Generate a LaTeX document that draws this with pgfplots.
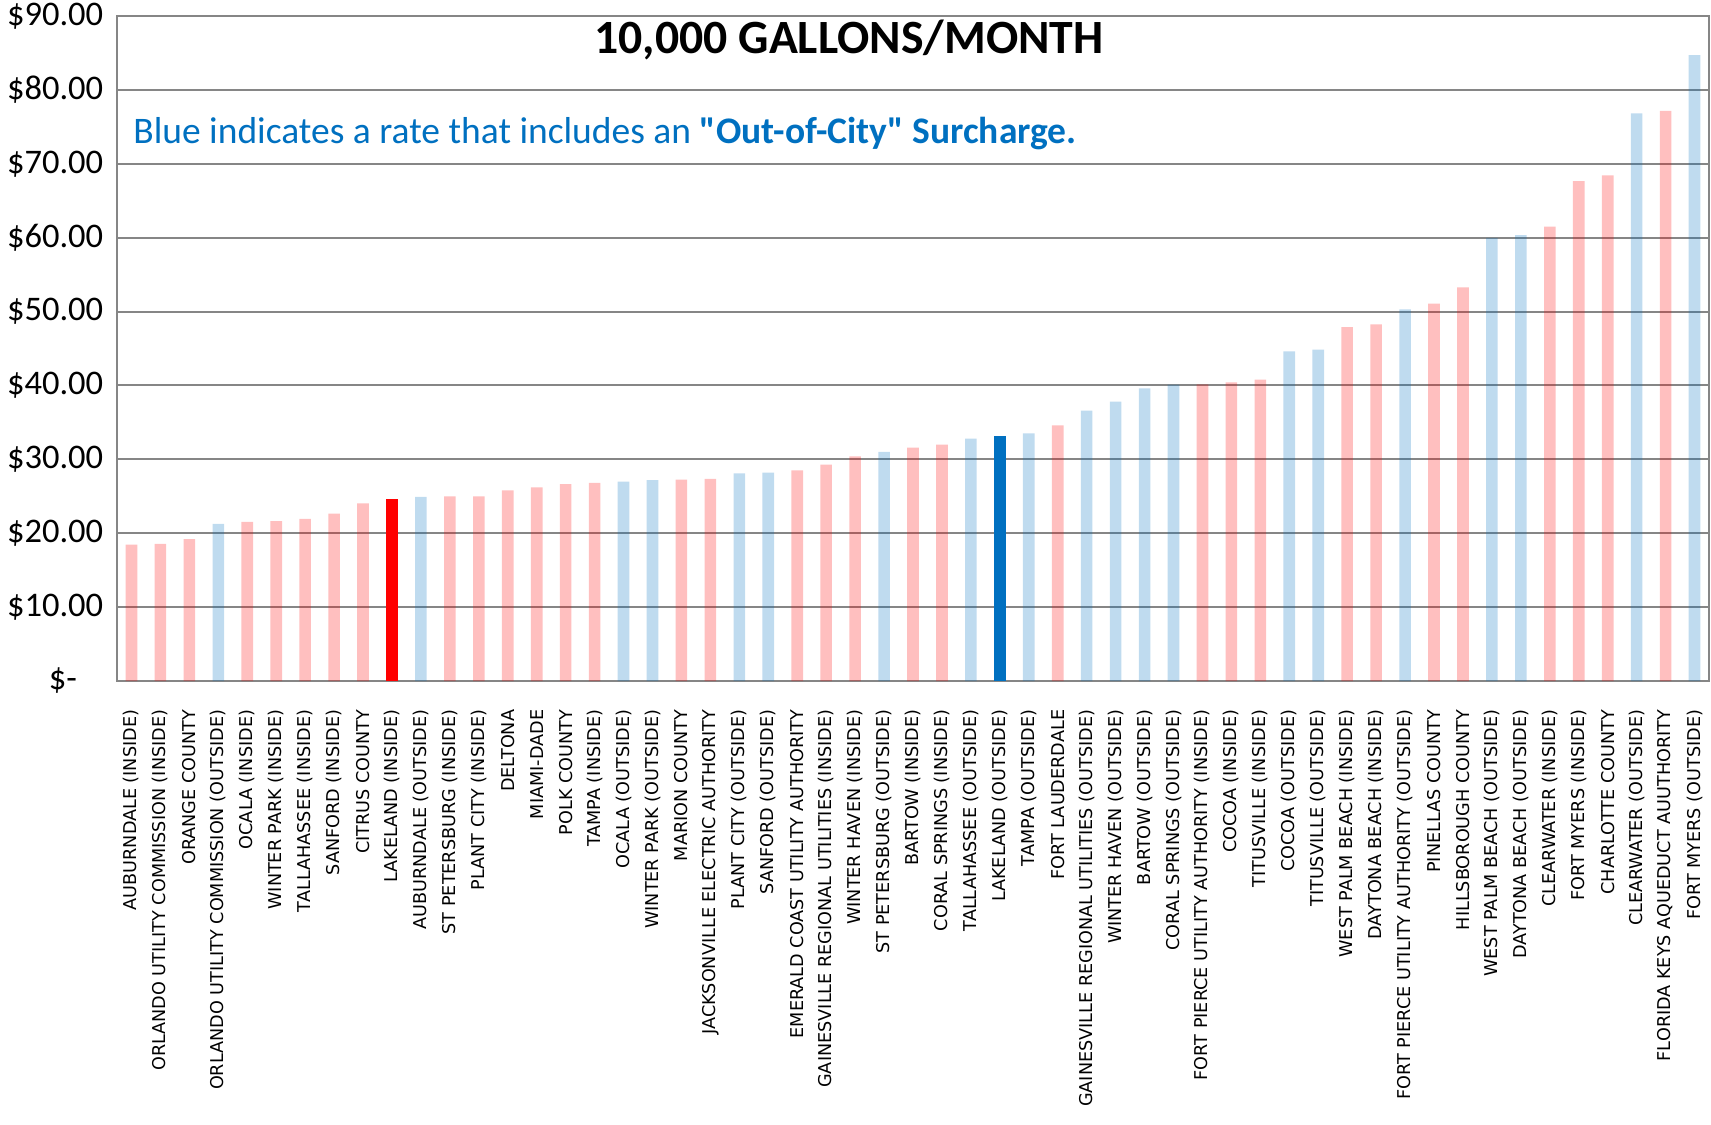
\documentclass[border=0pt]{standalone}
\usepackage{fontspec}
\setmainfont{Carlito}[Ligatures=TeXOff]
\newfontfamily\lblfont{DejaVu Sans}
\usepackage{pgfplots}
\pgfplotsset{compat=1.18}
\definecolor{redbar}{HTML}{FF0000}
\definecolor{bluebar}{HTML}{0070C0}
\definecolor{gridgray}{HTML}{868686}

\begin{document}
\begin{tikzpicture}
\useasboundingbox (-46.8pt,-177.2pt) rectangle (637.6pt,272.4pt);
\begin{axis}[
  at={(0,0)}, anchor=south west,
  scale only axis, width=636.8pt, height=266pt,
  xmin=0.5, xmax=55.5, ymin=0, ymax=90,
  ytick={0,10,...,90},
  yticklabels={\$-\hphantom{0.},\$10.00,\$20.00,\$30.00,\$40.00,\$50.00,\$60.00,\$70.00,\$80.00,\$90.00},
  xtick={1,...,55},
  xticklabels={AUBURNDALE (INSIDE),ORLANDO UTILITY COMMISSION (INSIDE),ORANGE COUNTY,
    ORLANDO UTILITY COMMISSION (OUTSIDE),OCALA (INSIDE),WINTER PARK (INSIDE),
    TALLAHASSEE (INSIDE),SANFORD (INSIDE),CITRUS COUNTY,LAKELAND (INSIDE),
    AUBURNDALE (OUTSIDE),ST PETERSBURG (INSIDE),PLANT CITY (INSIDE),DELTONA,
    MIAMI-DADE,POLK COUNTY,TAMPA (INSIDE),OCALA (OUTSIDE),WINTER PARK (OUTSIDE),
    MARION COUNTY,JACKSONVILLE ELECTRIC AUTHORITY,PLANT CITY (OUTSIDE),
    SANFORD (OUTSIDE),EMERALD COAST UTILITY AUTHORITY,
    GAINESVILLE REGIONAL UTILITIES (INSIDE),WINTER HAVEN (INSIDE),
    ST PETERSBURG (OUTSIDE),BARTOW (INSIDE),CORAL SPRINGS (INSIDE),
    TALLAHASSEE (OUTSIDE),LAKELAND (OUTSIDE),TAMPA (OUTSIDE),FORT LAUDERDALE,
    GAINESVILLE REGIONAL UTILITIES (OUTSIDE),WINTER HAVEN (OUTSIDE),
    BARTOW (OUTSIDE),CORAL SPRINGS (OUTSIDE),FORT PIERCE UTILITY AUTHORITY (INSIDE),
    COCOA (INSIDE),TITUSVILLE (INSIDE),COCOA (OUTSIDE),TITUSVILLE (OUTSIDE),
    WEST PALM BEACH (INSIDE),DAYTONA BEACH (INSIDE),
    FORT PIERCE UTILITY AUTHORITY (OUTSIDE),PINELLAS COUNTY,HILLSBOROUGH COUNTY,
    WEST PALM BEACH (OUTSIDE),DAYTONA BEACH (OUTSIDE),CLEARWATER (INSIDE),
    FORT MYERS (INSIDE),CHARLOTTE COUNTY,CLEARWATER (OUTSIDE),
    FLORIDA KEYS AQUEDUCT AUUTHORITY,FORT MYERS (OUTSIDE)},
  xticklabel style={rotate=90, anchor=east, xshift=-8pt, font=\lblfont\fontsize{7.05}{8}\selectfont},
  yticklabel style={font=\fontsize{13.8}{15}\selectfont, xshift=-2pt},
  major tick length=0pt,
  ymajorgrids, grid style={gridgray, line width=0.8pt},
  axis line style={gridgray, line width=0.8pt},
  ybar, bar width=4.64pt, bar shift=0pt,
]
% inside-city / no surcharge
\addplot[fill=redbar, fill opacity=0.25, draw=none] coordinates {
  (1,18.45) (2,18.55) (3,19.2) (5,21.55) (6,21.65) (7,21.95) (8,22.67) (9,24.03)
  (12,24.98) (13,24.98) (14,25.79) (15,26.2) (16,26.65) (17,26.83) (20,27.25)
  (21,27.35) (24,28.5) (25,29.3) (26,30.4) (28,31.6) (29,32.0) (33,34.6)
  (38,40.14) (39,40.4) (40,40.8) (43,47.88) (44,48.25) (46,51.09) (47,53.26)
  (50,61.49) (51,67.65) (52,68.44) (54,77.15)};
% out-of-city surcharge
\addplot[fill=bluebar, fill opacity=0.25, draw=none] coordinates {
  (4,21.27) (11,24.93) (18,27.0) (19,27.2) (22,28.1) (23,28.2) (27,31.0) (30,32.8)
  (32,33.5) (34,36.6) (35,37.8) (36,39.6) (37,40.1) (41,44.62) (42,44.86) (45,50.3)
  (48,59.98) (49,60.34) (53,76.84) (55,84.7)};
% Lakeland highlighted
\addplot[fill=redbar, draw=none] coordinates {(10,24.66)};
\addplot[fill=bluebar, draw=none] coordinates {(31,33.2)};

\node[font=\bfseries\fontsize{19.1}{22}\selectfont] at (rel axis cs:0.4598,0.964) {10,000 GALLONS/MONTH};
\node[anchor=west, inner sep=0pt, text=bluebar, font=\fontsize{15}{18}\selectfont]
  at (rel axis cs:0.01,0.824) {Blue indicates a rate that includes an \textbf{"Out-of-City" Surcharge.}};
\end{axis}
\end{tikzpicture}
\end{document}
